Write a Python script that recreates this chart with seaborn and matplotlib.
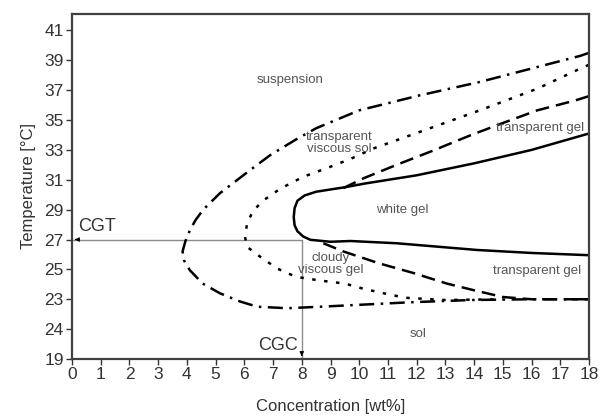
import matplotlib
matplotlib.use("Agg")
import matplotlib.pyplot as plt
import seaborn as sns

# phase boundaries (concentration wt%, temperature °C)
dashdot_x = [18, 17.7, 16.2, 14.2, 12.1, 10.0, 8.5, 7.8, 6.9, 6.1, 5.15, 4.57, 4.3, 4.1, 3.95, 3.85, 3.9, 4.1,
             4.55, 5.15, 5.85, 6.45, 7.5, 8.65, 9.7, 11.8, 13.9, 16.0, 18]
dashdot_y = [39.5, 39.3, 38.55, 37.55, 36.65, 35.65, 34.45, 33.7, 32.65, 31.5, 30.1, 29.0, 28.3, 27.6, 26.9,
             26.2, 25.6, 24.95, 24.05, 23.4, 22.85, 22.5, 22.4, 22.5, 22.6, 22.8, 22.95, 23.0, 23.0]

dotted_x = [18, 17.7, 16.2, 14.2, 12.1, 10.5, 9.7, 8.9, 8.05, 7.25, 6.65, 6.3, 6.1, 6.02, 6.1, 6.55, 7.15, 7.8,
            8.65, 9.5, 10.15, 10.85, 11.6, 13.0, 15.0]
dotted_y = [38.7, 38.45, 37.1, 35.65, 34.2, 33.1, 32.4, 31.8, 31.2, 30.4, 29.6, 28.9, 28.1, 27.2, 26.5, 25.85,
            25.05, 24.5, 24.25, 24.05, 23.7, 23.4, 23.1, 22.95, 23.0]

dashed_up_x = [18, 17.5, 16.2, 15.0, 13.9, 12.5, 11.3, 10.15, 9.35]
dashed_up_y = [36.6, 36.3, 35.65, 34.8, 34.0, 32.9, 32.0, 31.1, 30.35]
dashed_lo_x = [8.75, 9.45, 10.7, 11.9, 13.05, 14.0, 15.0, 16.0, 18]
dashed_lo_y = [26.75, 26.2, 25.4, 24.75, 24.05, 23.6, 23.15, 23.0, 23.0]

solid_x = [18, 16.0, 14.0, 12.0, 10.2, 9.5, 9.0, 8.5, 8.1, 7.85, 7.75, 7.72, 7.75, 7.85, 8.05, 8.3, 9.0, 9.7,
           11.3, 14.1, 16.0, 18]
solid_y = [34.1, 33.0, 32.1, 31.3, 30.75, 30.5, 30.35, 30.2, 29.95, 29.6, 29.1, 28.5, 27.95, 27.55, 27.2, 26.98,
           26.85, 26.9, 26.75, 26.3, 26.1, 25.95]

cgt = 27
cgc = 8

x_ticks = list(range(0, 19))
y_ticks = [19, 21, 23, 25, 27, 29, 31, 33, 35, 37, 39, 41]
y_tick_labels = ["19", "24", "23", "25", "27", "29", "31", "33", "35", "37", "39", "41"]

regions = ["suspension", "transparent\nviscous sol", "transparent gel", "white gel",
           "cloudy\nviscous gel", "transparent gel", "sol"]
region_x = [7.6, 9.3, 16.3, 11.5, 9.0, 16.2, 12.05]
region_y = [37.7, 33.45, 34.45, 29.0, 25.35, 24.9, 20.7]

sns.set_theme(style="ticks")
plt.rcParams["font.family"] = ["Liberation Sans", "DejaVu Sans"]

fig = plt.figure(figsize=(6.03, 4.19), dpi=100)
ax = fig.add_axes([0.1194, 0.1432, 0.8574, 0.8234])

lw = 1.8
sns.lineplot(x=dashdot_x, y=dashdot_y, sort=False, estimator=None, color="black", lw=lw,
             linestyle=(0, (6, 2.6, 1.0, 2.6)), ax=ax)
sns.lineplot(x=dotted_x, y=dotted_y, sort=False, estimator=None, color="black", lw=lw,
             linestyle=(0, (1.4, 3.4)), ax=ax)
sns.lineplot(x=dashed_up_x, y=dashed_up_y, sort=False, estimator=None, color="black", lw=lw,
             linestyle=(0, (5.5, 2.8)), ax=ax)
sns.lineplot(x=dashed_lo_x, y=dashed_lo_y, sort=False, estimator=None, color="black", lw=lw,
             linestyle=(0, (5.5, 2.8)), ax=ax)
sns.lineplot(x=solid_x, y=solid_y, sort=False, estimator=None, color="black", lw=lw, ax=ax)

# CGT / CGC guide lines
ax.plot([0, cgc], [cgt, cgt], color="#8c8c8c", lw=1.0, zorder=1)
ax.plot([cgc, cgc], [cgt, 19], color="#8c8c8c", lw=1.0, zorder=1)
ax.annotate("", xy=(0, cgt), xytext=(0.25, cgt),
            arrowprops=dict(arrowstyle="-|>", color="black", lw=0.8, mutation_scale=6))
ax.annotate("", xy=(cgc, 19), xytext=(cgc, 19.5),
            arrowprops=dict(arrowstyle="-|>", color="black", lw=0.8, mutation_scale=6))
ax.text(0.2, cgt + 0.3, "CGT", fontsize=13, color="#333333", ha="left", va="bottom")
ax.text(cgc - 0.15, 19.35, "CGC", fontsize=13, color="#333333", ha="right", va="bottom")

for lab, tx, ty in zip(regions, region_x, region_y):
    ax.text(tx, ty, lab, fontsize=9.5, color="#555555", ha="center", va="center", linespacing=1.0)

ax.set_xlim(0, 18)
ax.set_ylim(19, 42.1)
ax.set_xticks(x_ticks)
ax.set_yticks(y_ticks)
ax.set_yticklabels(y_tick_labels)
ax.tick_params(axis="both", labelsize=12.5, length=4, width=1, color="#333333", labelcolor="#333333", pad=2)
ax.set_xlabel("Concentration [wt%]", fontsize=12, color="#333333", labelpad=12)
ax.set_ylabel("Temperature [°C]", fontsize=12, color="#333333", labelpad=6)
for s in ax.spines.values():
    s.set_visible(True)
    s.set_linewidth(1.6)
    s.set_color("#404040")

fig.savefig("out.png", dpi=100)
